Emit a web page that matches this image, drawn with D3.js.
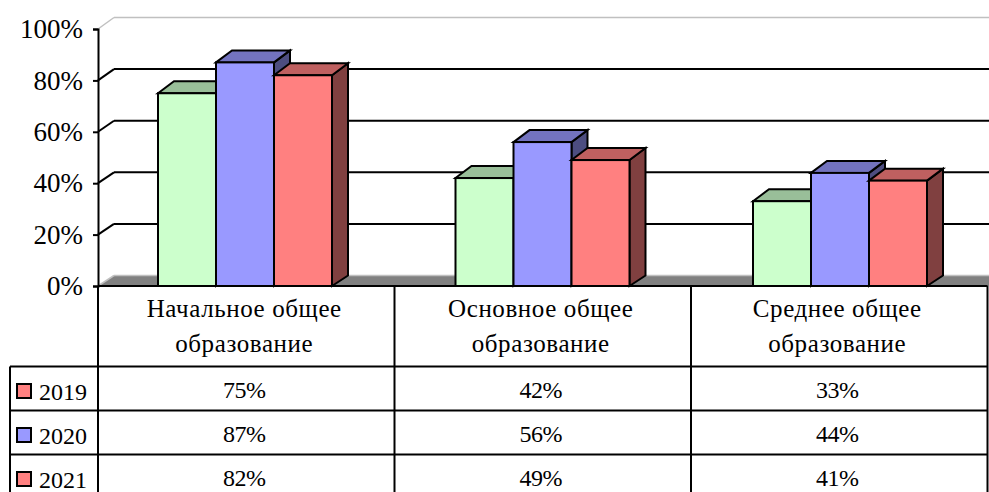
<!DOCTYPE html>
<html>
<head>
<meta charset="utf-8">
<script src="https://cdn.jsdelivr.net/npm/d3@7"></script>
<style>
  html, body { margin: 0; padding: 0; background: #fff; overflow: hidden; }
  svg { display: block; }
  text { font-family: "Liberation Serif", serif; fill: #000; }
</style>
</head>
<body>
<div class="chart"></div>
<script>
const categories = [
  ["Начальное общее", "образование"],
  ["Основное общее", "образование"],
  ["Среднее общее", "образование"]
]
const seriesNames = ["2019", "2020", "2021"]
const values2019 = [75, 42, 33]
const values2020 = [87, 56, 44]
const values2021 = [82, 49, 41]
const yTicks = [0, 20, 40, 60, 80, 100]

const barColors = ["#CCFFCC", "#9999FF", "#FF8080"]
const topColors = ["#99BF99", "#7373BF", "#BF6060"]
const sideColors = ["#668066", "#4D4D80", "#804040"]
// the reference really shows the 2019 key in red, not the bar's green
const keyColors = ["#FF8080", "#9999FF", "#FF8080"]

const drawChart = () => {
  const width = 989
  const height = 492
  const margin = { left: 98, top: 29, zero: 286 }
  const depth = { x: 16, y: -12 }
  const rowLines = [366.5, 410.5, 454.5]
  const rowHeight = 44
  const tableRight = 987.5

  const series = seriesNames.map((name, i) => ({
    name,
    index: i,
    values: [values2019, values2020, values2021][i]
  }))

  const categoryIds = categories.map((d, i) => i)

  const xScale = d3.scaleBand()
    .domain(categoryIds)
    .range([margin.left, 990.5])

  // the table columns run a little narrower than the bar groups
  const xTable = d3.scaleBand()
    .domain(categoryIds)
    .range([margin.left, tableRight])

  const xInner = d3.scaleBand()
    .domain(seriesNames)
    .range([60, 234])

  const yScale = d3.scaleLinear()
    .domain([0, 100])
    .range([margin.zero, margin.top])

  const yBack = d3.scaleLinear()
    .domain([0, 100])
    .range([275.5, 17.5])

  const svg = d3.select(".chart")
    .append("svg")
      .attr("width", width)
      .attr("height", height)

  // floor
  svg.append("path")
      .attr("d", `M${margin.left},${yScale(0)}L${margin.left + depth.x},${yBack(0)}H${width}V${yScale(0)}Z`)
      .attr("fill", "#808080")

  const isEdge = d => d == 100 || d == 0

  // back wall grid
  svg.append("g")
    .selectAll("line")
    .data(yTicks)
    .join("line")
      .attr("x1", margin.left + depth.x)
      .attr("x2", width)
      .attr("y1", d => yBack(d))
      .attr("y2", d => yBack(d))
      .attr("stroke", d => isEdge(d) ? "#C0C0C0" : "#000")
      .attr("stroke-width", d => isEdge(d) ? 1.5 : 2)

  // side wall grid
  svg.append("g")
    .selectAll("line")
    .data(yTicks)
    .join("line")
      .attr("x1", margin.left)
      .attr("x2", margin.left + depth.x)
      .attr("y1", d => yScale(d))
      .attr("y2", d => yBack(d))
      .attr("stroke", d => isEdge(d) ? "#C0C0C0" : "#000")
      .attr("stroke-width", d => isEdge(d) ? 1.5 : 2)

  // bars, left to right so each one covers the side of the previous
  const groups = svg.append("g")
    .selectAll("g")
    .data(categoryIds)
    .join("g")
      .attr("transform", d => `translate(${xScale(d)},0)`)

  series.forEach(s => {
    const bar = groups.append("g")
        .attr("stroke", "#000")
        .attr("stroke-width", 2)
    const x0 = xInner(s.name)
    const x1 = x0 + xInner.bandwidth()

    bar.append("path")
        .attr("fill", sideColors[s.index])
        .attr("d", c => `M${x1},${yScale(s.values[c])}l${depth.x},${depth.y}V${yBack(0)}L${x1},${yScale(0)}Z`)
    bar.append("path")
        .attr("fill", topColors[s.index])
        .attr("d", c => `M${x0},${yScale(s.values[c])}l${depth.x},${depth.y}H${x1 + depth.x}L${x1},${yScale(s.values[c])}Z`)
    bar.append("rect")
        .attr("fill", barColors[s.index])
        .attr("x", x0)
        .attr("width", xInner.bandwidth())
        .attr("y", c => yScale(s.values[c]))
        .attr("height", c => yScale(0) - yScale(s.values[c]))
  })

  const yAxisGenerator = d3.axisLeft()
    .scale(yScale)
    .tickValues(yTicks)
    .tickSize(5)
    .tickPadding(10)
    .tickFormat(d => `${d}%`)

  svg.append("g")
      .attr("class", "y-axis")
      .attr("transform", `translate(${margin.left},0)`)
      .call(yAxisGenerator)
      .call(g => g.select(".domain").attr("stroke-width", 2))
      .call(g => g.selectAll(".tick line").attr("stroke-width", 2))
      .call(g => g.selectAll(".tick text")
          .attr("font-family", "Liberation Serif")
          .attr("font-size", 27)
          .attr("dy", "0.32em"))

  // data table
  const table = svg.append("g")
      .attr("stroke", "#000")
      .attr("stroke-width", 2)

  table.append("line")
      .attr("x1", margin.left).attr("x2", tableRight)
      .attr("y1", yScale(0)).attr("y2", yScale(0))
  table.selectAll(".row-line")
    .data(rowLines)
    .join("line")
      .attr("class", "row-line")
      .attr("x1", 10).attr("x2", tableRight)
      .attr("y1", d => d).attr("y2", d => d)
  table.selectAll(".col-line")
    .data([margin.left, xTable(1), xTable(2), tableRight])
    .join("line")
      .attr("class", "col-line")
      .attr("x1", d => d).attr("x2", d => d)
      .attr("y1", yScale(0)).attr("y2", height)
  table.append("line")
      .attr("x1", 10).attr("x2", 10)
      .attr("y1", rowLines[0]).attr("y2", height)

  // category headers
  const headers = svg.append("g")
    .selectAll("text")
    .data(categories)
    .join("text")
      .attr("text-anchor", "middle")
      .attr("font-size", 25)
      .attr("letter-spacing", 0.6)
      .attr("x", (d, i) => xTable(i) + xTable.bandwidth() / 2 - 2)
      .attr("y", 317)
  headers.selectAll("tspan")
    .data(d => d)
    .join("tspan")
      .attr("x", function() { return this.parentNode.getAttribute("x") })
      .attr("dy", (d, i) => i ? 35 : 0)
      .text(d => d)

  // value rows
  series.forEach(s => {
    const rowY = rowLines[s.index]

    svg.append("rect")
        .attr("x", 17)
        .attr("y", rowY + 17.5)
        .attr("width", 14)
        .attr("height", 14)
        .attr("fill", keyColors[s.index])
        .attr("stroke", "#000")
        .attr("stroke-width", 2)
    svg.append("text")
        .attr("x", 39)
        .attr("y", rowY + 33.5)
        .attr("font-size", 24)
        .text(s.name)
    svg.append("g")
      .selectAll("text")
      .data(s.values)
      .join("text")
        .attr("text-anchor", "middle")
        .attr("font-size", 24)
        .attr("letter-spacing", -0.5)
        .attr("x", (d, i) => xTable(i) + xTable.bandwidth() / 2 - 2)
        .attr("y", rowY + rowHeight - 12.5)
        .text(d => `${d}%`)
  })
}
drawChart()
</script>
</body>
</html>
